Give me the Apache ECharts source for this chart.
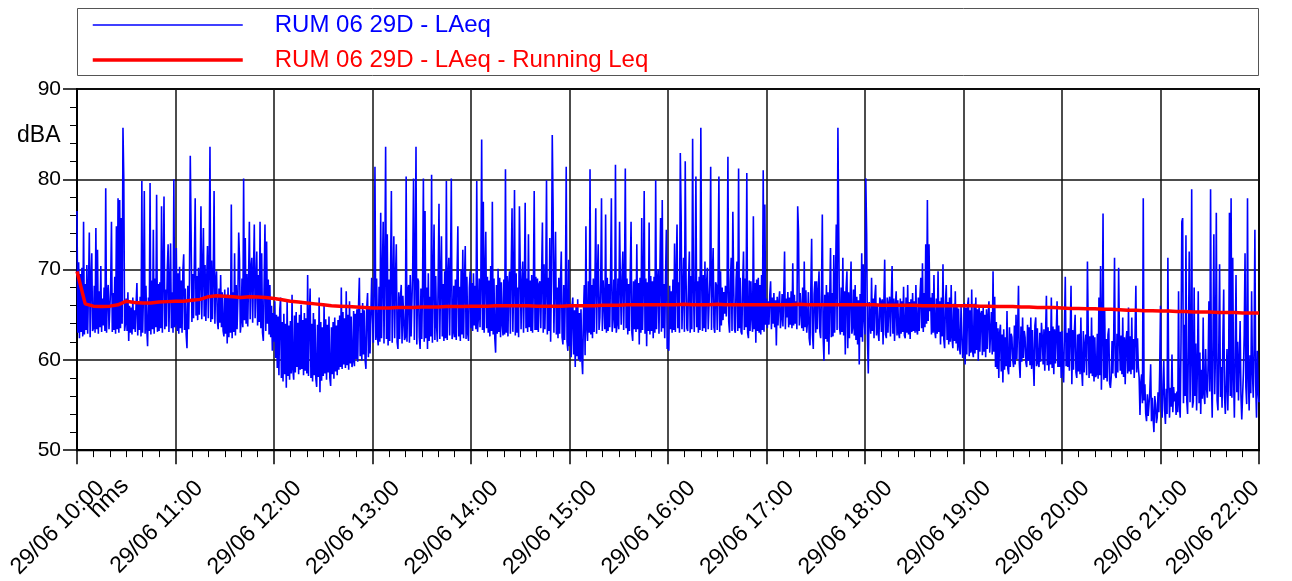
<!DOCTYPE html>
<html>
<head>
<meta charset="utf-8">
<title>RUM 06 29D - LAeq</title>
<script src="https://cdn.jsdelivr.net/npm/echarts@6/dist/echarts.min.js"></script>
<style>
html, body { margin: 0; padding: 0; background: #fff; }
#chart { width: 1292px; height: 581px; }
</style>
</head>
<body>
<div id="chart"></div>
<script>
// series names (legend)
var seriesNames = ['RUM 06 29D - LAeq', 'RUM 06 29D - LAeq - Running Leq'];

// LAeq, dB(A) - one row per 10 minutes starting 10:00 (30 s steps)
var laeqRows = [
  [76.5,63.0,70.8,62.4,69.5,63.1,70.2,62.6,75.3,62.8,68.4,63.3,70.5,62.9,67.8,74.1,62.5,68.9,71.8,63.2],
  [63.5,68.2,63.0,74.6,63.4,72.2,62.9,67.6,63.6,70.4,63.1,66.8,63.8,68.0,63.2,79.0,63.0,67.2,68.3,63.4],
  [63.6,68.0,75.3,63.1,67.4,63.3,69.2,62.9,74.8,63.4,77.9,63.0,77.7,63.5,75.7,64.0,85.7,80.1,63.2,64.0],
  [66.8,63.2,67.5,62.1,66.0,63.0,65.8,62.8,66.9,63.4,65.5,63.1,66.2,68.5,62.7,66.4,63.3,67.0,62.6,79.8],
  [63.0,67.4,78.7,62.9,68.2,63.5,61.5,66.9,63.2,79.6,62.8,68.8,63.4,74.4,62.9,69.0,63.6,78.3,63.1,68.4],
  [63.2,68.6,63.5,77.0,63.0,69.1,78.1,63.4,67.8,63.7,70.0,72.8,63.1,68.3,72.9,63.5,67.5,63.0,80.0,63.6],
  [64.0,72.4,63.2,69.6,62.9,70.3,63.5,68.8,63.0,69.9,71.7,63.3,67.9,62.8,61.3,68.2,63.4,69.0,82.6,74.2],
  [64.2,69.5,64.6,70.8,77.9,64.9,69.3,64.4,70.2,65.0,68.7,77.0,64.5,69.8,74.6,64.8,70.5,64.3,68.9,72.6],
  [64.6,70.1,83.6,64.2,71.0,64.5,69.2,78.7,64.0,68.6,69.8,64.3,63.4,67.9,64.1,69.4,63.6,67.5,63.2,62.6],
  [67.8,62.9,67.2,61.8,68.0,62.5,66.9,63.0,77.2,62.4,67.5,63.1,71.8,62.7,68.3,63.4,66.8,74.1,71.1,63.0],
  [64.2,69.0,63.6,80.1,64.4,73.5,64.0,69.5,63.7,68.8,75.3,64.5,70.2,71.3,64.1,69.6,75.0,64.6,68.5,72.0],
  [63.8,69.4,64.2,75.3,63.5,71.8,63.0,62.1,68.6,75.0,63.2,73.1,64.0,68.9,62.8,68.3,62.5,66.0,61.0,65.2],
  [62.0,66.5,60.2,65.0,59.1,64.8,58.3,65.5,66.9,58.0,64.2,57.6,65.1,58.4,64.0,56.9,66.5,58.2,63.8,57.8],
  [64.3,58.5,67.2,58.9,57.8,64.9,58.6,65.3,59.2,64.1,58.4,65.0,58.9,66.1,59.0,64.4,58.3,65.2,58.8,64.6],
  [58.5,69.4,58.2,64.6,67.9,58.0,64.0,57.6,65.2,58.3,64.5,57.9,57.0,63.9,58.1,66.9,56.4,64.2,57.7,63.6],
  [58.2,66.1,58.5,64.5,57.8,63.9,58.6,64.8,58.0,57.1,63.6,58.4,64.2,57.9,64.7,58.7,63.8,58.3,64.4,58.9],
  [64.9,59.2,68.0,59.0,65.3,59.5,64.6,59.1,67.6,59.4,65.0,58.9,66.5,59.6,64.8,59.2,59.8,65.4,59.3,65.1],
  [60.1,65.6,59.8,66.0,69.1,60.4,65.2,59.9,66.3,60.6,65.5,60.0,59.0,65.8,67.4,60.3,65.9,60.7,64.9,69.1],
  [65.0,61.9,68.4,81.4,62.2,69.0,62.5,61.6,68.1,62.0,76.3,62.4,69.3,75.3,61.8,70.2,83.6,62.3,73.9,61.6],
  [68.9,62.1,69.5,78.7,61.9,68.2,73.7,62.4,69.1,72.8,62.0,61.2,67.5,62.3,66.8,68.3,61.8,67.1,66.9,62.2],
  [62.5,80.3,62.0,67.6,68.3,61.9,69.4,62.6,62.4,70.1,80.1,62.2,69.8,83.6,61.7,69.0,68.7,62.5,61.2,67.9],
  [62.3,68.5,80.1,62.0,76.5,62.4,68.0,61.2,69.6,62.1,67.0,62.6,80.5,61.9,68.8,75.0,62.2,69.3,63.9,62.0],
  [68.7,77.3,62.3,69.1,73.7,62.6,68.4,62.1,69.8,62.4,79.8,62.2,68.9,71.3,62.7,69.5,80.1,62.3,63.0,68.2],
  [62.5,68.9,62.2,69.4,74.8,62.6,68.1,62.1,70.0,62.8,72.2,62.4,68.6,72.6,62.3,69.2,62.9,62.1,68.0,69.8],
  [63.5,68.5,63.2,69.6,63.8,68.2,63.4,79.8,63.1,64.7,69.0,63.6,68.7,84.4,63.3,77.5,63.0,69.4,74.2,63.5],
  [69.2,63.0,68.8,62.6,70.4,63.2,77.5,62.8,69.0,62.4,60.8,68.3,62.9,70.1,63.1,69.1,62.5,68.6,64.0,62.7],
  [68.9,62.8,81.1,63.0,69.3,62.6,68.5,69.8,62.9,70.2,76.8,63.1,68.4,78.8,62.7,69.6,63.0,68.0,62.5,77.0],
  [76.8,63.4,68.6,70.9,63.0,68.2,77.4,63.5,69.0,63.1,73.9,63.6,68.8,63.2,69.4,63.0,68.1,78.7,63.3,69.2],
  [63.3,69.0,63.1,68.4,68.7,63.5,69.3,75.2,63.0,70.6,63.4,68.0,79.9,62.8,69.1,63.2,73.5,62.0,68.9,84.9],
  [76.9,63.0,68.5,74.2,62.8,68.0,62.4,69.1,62.9,68.6,72.0,62.5,61.7,68.3,62.2,67.5,81.4,62.0,61.0,71.1],
  [61.5,66.2,60.3,65.8,66.9,60.6,65.5,59.2,65.9,60.4,66.7,60.0,65.2,59.8,65.6,60.2,58.4,64.9,68.3,60.5],
  [74.8,63.5,62.1,68.7,63.0,81.1,62.8,68.3,62.4,69.0,63.1,68.6,76.8,62.9,69.2,72.8,63.3,64.7,68.5,77.9],
  [63.2,68.8,66.5,63.4,76.1,63.0,69.1,63.2,68.4,63.6,69.3,77.9,63.1,64.7,68.9,63.5,81.6,63.0,63.9,69.0],
  [63.4,75.3,68.6,63.9,69.2,72.0,63.3,68.8,81.2,63.5,69.0,62.8,68.4,63.2,69.5,75.3,63.0,62.1,68.7,63.4],
  [68.9,63.1,72.8,63.4,68.5,61.7,69.1,63.0,75.7,63.3,68.2,78.7,62.9,69.0,61.5,68.6,63.2,75.2,62.8,69.3],
  [63.2,68.7,62.4,69.2,63.0,79.9,63.4,68.5,70.0,62.9,68.8,75.7,63.1,77.7,63.5,68.4,62.4,69.0,74.4,61.2],
  [62.5,61.0,68.2,63.4,67.6,63.0,68.9,63.3,72.9,63.1,69.4,75.0,63.5,68.6,63.0,82.9,75.9,63.4,63.2,71.3],
  [63.1,82.0,69.0,63.5,63.2,68.6,72.0,63.0,69.3,63.4,84.5,68.3,63.1,69.0,80.3,63.6,68.7,63.0,69.2,63.3],
  [85.7,68.8,63.2,69.4,63.5,70.9,63.1,68.5,70.2,63.4,63.2,68.9,81.4,63.3,69.1,72.4,63.6,63.0,68.6,68.3],
  [63.3,68.5,80.3,63.1,69.8,63.8,68.0,64.4,67.5,65.1,68.2,64.8,67.9,82.5,64.2,63.0,68.7,71.3,63.2,76.4],
  [68.4,63.4,63.0,68.9,70.9,63.2,81.2,63.5,69.1,63.1,62.8,68.6,72.0,63.3,69.0,63.6,80.7,63.0,62.4,68.8],
  [63.2,68.7,64.7,63.1,75.9,63.4,68.5,61.9,68.9,63.2,69.1,63.0,68.3,62.8,69.4,63.3,81.0,63.1,77.2,63.9],
  [66.8,63.5,66.5,63.9,67.2,68.7,63.4,66.9,64.0,67.4,63.6,66.6,61.6,67.0,63.8,66.4,67.6,63.5,64.7,67.3],
  [63.7,67.1,72.0,63.4,66.8,64.7,67.5,63.6,66.9,63.9,67.6,63.5,70.7,63.8,67.2,64.0,66.5,63.4,77.0,74.2],
  [63.8,67.4,65.4,63.5,68.0,63.2,70.9,63.6,67.7,63.0,64.3,67.5,62.4,61.6,67.9,73.4,62.8,61.2,67.3,68.7],
  [63.0,68.7,63.4,67.6,69.8,63.1,62.4,67.8,76.1,62.6,59.9,67.2,62.3,68.3,62.0,67.5,60.6,66.8,72.4,62.5],
  [67.4,62.6,71.6,63.0,68.2,75.0,63.3,85.7,74.2,63.5,62.8,68.0,63.1,71.3,62.7,67.6,60.6,67.9,69.8,61.3],
  [67.5,62.4,67.1,70.9,62.9,63.6,67.8,62.7,68.3,62.2,67.0,61.7,66.6,59.5,67.3,62.5,71.8,62.0,70.6,64.7],
  [62.8,80.1,74.0,62.5,58.5,66.4,64.7,62.9,69.1,63.2,66.8,62.4,67.0,68.3,62.7,66.2,63.0,62.1,66.9,66.5],
  [63.1,66.7,61.7,66.4,71.1,62.8,62.4,66.9,63.0,66.3,67.0,62.6,66.5,70.4,62.9,66.8,62.1,66.2,67.6,62.7],
  [66.6,63.0,62.4,66.8,62.9,66.5,63.1,68.1,62.7,62.4,66.9,63.0,68.3,62.8,66.4,62.3,66.7,63.1,67.4,63.2],
  [66.5,63.0,68.3,63.3,62.8,66.9,63.2,67.1,69.1,63.5,70.7,63.1,67.4,63.6,72.8,64.0,77.7,64.3,72.8,65.4],
  [66.9,62.8,67.4,63.0,69.4,63.2,62.4,66.8,62.9,69.8,63.1,66.5,61.7,66.9,62.6,70.6,62.3,61.3,66.4,68.3],
  [62.2,66.4,61.7,66.9,62.0,68.3,62.5,61.3,66.2,62.1,67.6,61.8,66.0,61.0,65.7,61.5,60.6,65.9,66.1,60.2],
  [61.0,66.3,59.5,65.8,60.6,66.0,66.9,60.4,65.5,60.8,67.8,61.0,60.3,66.2,60.7,66.9,61.1,65.6,59.9,65.9],
  [60.9,65.1,65.4,60.5,65.8,60.9,65.0,60.3,65.6,61.2,64.9,66.5,60.8,61.0,65.3,60.6,69.8,60.9,67.0,59.2],
  [64.2,59.0,63.5,58.0,63.0,63.9,58.7,62.8,57.5,63.4,58.9,62.5,59.3,65.4,59.0,58.4,63.6,59.2,62.9,62.5],
  [60.0,59.2,63.8,59.5,65.0,60.1,63.5,68.2,59.6,58.0,63.7,59.8,64.7,60.2,63.2,62.5,59.7,59.2,63.9,59.9],
  [63.6,59.4,64.7,59.0,63.3,59.7,57.1,63.8,64.7,59.3,63.5,59.6,59.2,63.0,59.8,64.1,62.5,59.5,63.4,58.8],
  [62.9,67.1,59.4,63.6,58.8,63.2,59.5,66.9,59.1,63.7,58.4,63.4,59.6,63.0,66.5,59.2,63.8,59.2,63.1,58.0],
  [63.2,59.0,57.5,63.6,69.2,59.3,63.0,59.2,63.5,58.8,62.9,68.2,57.3,63.3,58.9,63.1,65.0,58.6,58.0,62.8],
  [58.7,62.9,58.4,64.7,58.9,57.1,63.2,58.6,61.7,62.8,58.3,70.9,63.0,58.0,62.6,58.5,64.7,58.2,62.7,57.6],
  [62.5,58.1,58.4,62.9,57.9,66.9,58.3,70.4,56.7,62.6,76.2,57.8,65.4,58.0,62.3,57.6,62.8,63.5,57.4,56.9],
  [58.2,62.1,58.5,62.6,71.3,58.3,58.0,62.9,58.6,70.2,62.4,58.8,62.7,58.4,64.7,58.1,62.5,57.3,62.2,63.2],
  [58.5,65.8,58.7,62.6,58.4,64.7,58.9,62.3,58.0,62.8,68.2,58.6,62.4,59.2,58.0,53.9,57.5,58.4,55.2,77.9],
  [55.5,57.3,54.0,53.2,56.2,53.8,55.1,56.5,59.5,53.2,55.8,53.5,52.0,56.0,55.1,53.0,53.6,56.4,54.2,58.8],
  [66.0,55.0,53.6,57.2,59.9,54.5,52.9,56.8,54.0,71.3,57.5,53.6,56.9,54.8,60.6,54.2,57.0,55.4,56.3,53.9],
  [56.5,54.2,67.6,55.0,53.6,62.0,75.3,75.7,55.2,63.9,56.0,73.8,55.5,54.0,61.5,72.0,55.3,60.2,78.9,54.7],
  [55.4,68.0,56.0,61.8,54.4,59.5,67.6,55.2,60.8,54.0,58.9,55.7,64.7,56.2,55.1,61.2,57.0,55.8,59.6,66.5],
  [56.5,78.9,58.0,53.6,62.5,73.9,56.2,60.8,76.3,55.5,54.4,61.0,70.6,55.9,59.2,54.7,62.4,67.8,56.0,54.0],
  [57.5,61.2,54.4,59.0,76.3,56.0,77.9,55.8,71.3,58.2,53.6,60.5,69.4,56.4,62.0,55.5,59.8,64.3,56.1,53.4],
  [56.0,58.5,62.8,71.8,57.0,55.1,77.9,58.2,54.4,60.5,56.3,67.6,58.8,55.8,61.4,74.4,57.2,53.6,61.0,56.5]
];
var laeqLast = 55.3; // 22:00

// running Leq, dB(A), every 5 minutes from 10:00 to 22:00
var runningLeq = [
  69.8,66.2,65.95,65.9,65.95,66.1,66.5,66.35,66.3,66.3,66.4,66.45,
  66.5,66.5,66.6,66.7,67.0,67.1,67.05,67.0,66.9,67.0,66.95,66.9,
  66.8,66.65,66.5,66.4,66.3,66.2,66.1,66.0,65.95,65.9,65.85,65.8,
  65.75,65.75,65.75,65.8,65.8,65.8,65.85,65.85,65.85,65.9,65.9,65.9,
  65.95,65.95,65.95,66.0,66.0,66.0,66.0,66.0,65.95,65.95,65.95,65.95,
  66.0,66.0,66.0,66.0,66.05,66.05,66.05,66.1,66.1,66.1,66.1,66.1,
  66.1,66.1,66.15,66.1,66.1,66.1,66.15,66.1,66.1,66.1,66.1,66.1,
  66.1,66.1,66.1,66.1,66.15,66.1,66.1,66.1,66.1,66.1,66.1,66.1,
  66.1,66.1,66.05,66.05,66.05,66.05,66.05,66.0,66.0,66.0,66.0,66.0,
  66.0,66.0,65.95,65.95,65.9,65.9,65.9,65.85,65.85,65.8,65.8,65.8,
  65.75,65.7,65.7,65.65,65.65,65.6,65.6,65.55,65.5,65.5,65.45,65.45,
  65.4,65.4,65.35,65.35,65.3,65.3,65.3,65.25,65.25,65.25,65.2,65.2,
  65.2
];
var leqStepMin = 5;

// time axis: minutes after 10:00
var startHour = 10;
var dayLabel = '29/06';

function pad2(n) { return (n < 10 ? '0' : '') + n; }

var laeqData = [];
laeqRows.forEach(function (row, r) {
  var step = 10 / row.length;
  row.forEach(function (v, j) {
    laeqData.push([r * 10 + j * step, v]);
  });
});
laeqData.push([laeqRows.length * 10, laeqLast]);

var leqData = runningLeq.map(function (v, i) { return [i * leqStepMin, v]; });

var chart = echarts.init(document.getElementById('chart'));
var font = 'Arial, "Liberation Sans", sans-serif';

var option = {
  animation: false,
  backgroundColor: '#fff',
  textStyle: { fontFamily: font },
  grid: {
    left: 77, right: 33, top: 89, bottom: 130,
    show: true, borderColor: '#000', borderWidth: 2
  },
  legend: {
    orient: 'vertical',
    left: 86, top: 8,
    itemWidth: 150, itemHeight: 24, itemGap: 11,
    selectedMode: false,
    itemStyle: { opacity: 0 },
    textStyle: { fontSize: 24, fontFamily: font, padding: [0, 0, 4, 27] },
    data: [
      { name: seriesNames[0], textStyle: { color: '#0000ff' }, lineStyle: { width: 1.5 } },
      { name: seriesNames[1], textStyle: { color: '#ff0000' }, lineStyle: { width: 3.5 } }
    ]
  },
  graphic: [
    {
      type: 'rect', silent: true,
      shape: { x: 77.5, y: 8.5, width: 1181, height: 67 },
      style: { fill: 'none', stroke: '#555', lineWidth: 1 }
    },
    {
      type: 'text', x: 17, y: 136,
      style: { text: 'dBA', font: '23px ' + font, fill: '#000', textVerticalAlign: 'middle' }
    },
    {
      type: 'text', x: 109, y: 498, rotation: Math.PI / 4,
      style: { text: 'hms', font: '24px ' + font, fill: '#000', textAlign: 'center', textVerticalAlign: 'middle' }
    }
  ],
  xAxis: {
    type: 'value', min: 0, max: 720, interval: 60,
    axisLine: { lineStyle: { color: '#000', width: 2 } },
    axisTick: { length: 14, lineStyle: { color: '#000', width: 1.5 } },
    minorTick: { show: true, splitNumber: 6, length: 7, lineStyle: { color: '#000', width: 1 } },
    splitLine: { show: true, lineStyle: { color: '#111', width: 1.5 } },
    axisLabel: {
      rotate: 45, margin: 11, verticalAlign: 'top',
      fontSize: 23, color: '#000',
      formatter: function (v) {
        var txt = dayLabel + ' ' + pad2(startHour + Math.round(v / 60)) + ':00';
        return v >= 720 ? '{e|' + txt + '}' : '{n|' + txt + '}';
      },
      rich: {
        n: { fontSize: 23, color: '#000', padding: [22, 0, 0, 0] },
        e: { fontSize: 23, color: '#000', padding: [3, 19, 0, 0] }
      }
    }
  },
  yAxis: {
    type: 'value', min: 50, max: 90, interval: 10,
    axisLine: { show: true, lineStyle: { color: '#000', width: 2 } },
    axisTick: { show: true, length: 14, lineStyle: { color: '#000', width: 1.5 } },
    minorTick: { show: true, splitNumber: 5, length: 7, lineStyle: { color: '#000', width: 1 } },
    splitLine: { show: true, lineStyle: { color: '#111', width: 1.5 } },
    axisLabel: { fontSize: 21, color: '#000', margin: 16 }
  },
  series: [
    {
      name: seriesNames[0], type: 'line', data: laeqData,
      showSymbol: false, symbol: 'none', sampling: false,
      lineStyle: { color: '#0000ff', width: 1.6 },
      itemStyle: { color: '#0000ff' }
    },
    {
      name: seriesNames[1], type: 'line', data: leqData,
      showSymbol: false, symbol: 'none', smooth: false,
      lineStyle: { color: '#ff0000', width: 3.5 },
      itemStyle: { color: '#ff0000' }
    }
  ]
};
chart.setOption(option);
</script>
</body>
</html>
